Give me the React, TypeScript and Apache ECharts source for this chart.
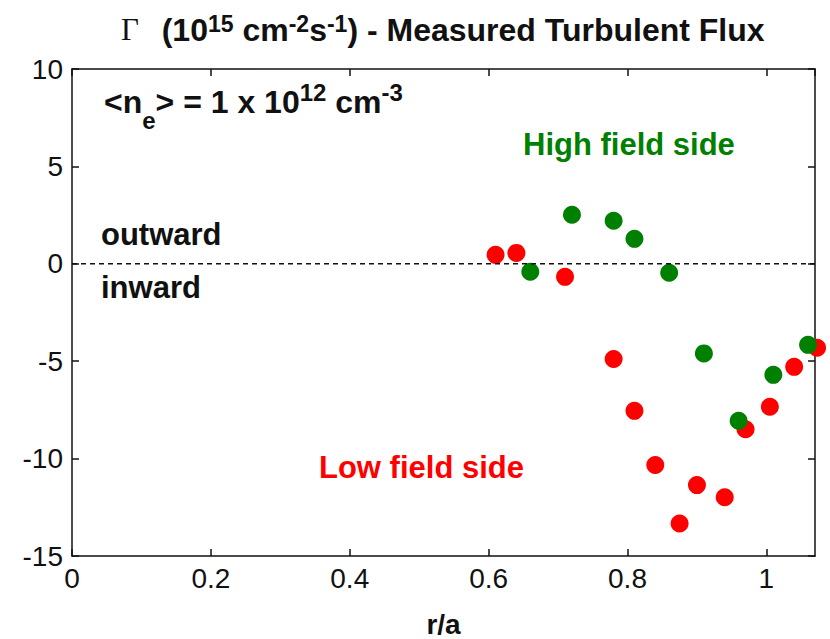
import React, { useEffect, useRef } from 'react';
import * as echarts from 'echarts';

// Measured turbulent particle flux versus normalised radius r/a
const rLow = [0.61, 0.64, 0.71, 0.78, 0.81, 0.84, 0.875, 0.9, 0.94, 0.97, 1.005, 1.04, 1.073];
const fluxLow = [0.46, 0.56, -0.67, -4.89, -7.55, -10.33, -13.33, -11.36, -11.98, -8.49, -7.34, -5.29, -4.31];
const rHigh = [0.66, 0.72, 0.78, 0.81, 0.86, 0.91, 0.96, 1.01, 1.06];
const fluxHigh = [-0.41, 2.52, 2.21, 1.28, -0.46, -4.6, -8.06, -5.7, -4.16];

const xTicks = [0, 0.2, 0.4, 0.6, 0.8, 1];
const yTicks = [-15, -10, -5, 0, 5, 10];
const xRange = [0, 1.07];
const yRange = [-15, 10];
const zeroLine = [0, 0];

const SANS = '"Liberation Sans", Arial, Helvetica, sans-serif';
const SERIF = '"Liberation Serif", "Times New Roman", serif';
const RED = '#ff0000';
const GREEN = '#008000';
const INK = '#111111';

const pairs = (xs: number[], ys: number[]) => xs.map((x, i) => [x, ys[i]]);

const tickLabel = (v: number, list: number[]) =>
  list.some((t) => Math.abs(t - v) < 1e-6) ? String(+v.toFixed(2)) : '';

const axisLineStyle = { show: true, onZero: false, lineStyle: { color: INK, width: 1.5 } };
const tickStyle = { show: true, inside: true, length: 7, lineStyle: { color: INK, width: 1.5 } };
const labelFont = { fontFamily: SANS, fontSize: 28, color: INK };

function boldToken(size: number, extra: Record<string, unknown> = {}) {
  return { fontFamily: SANS, fontWeight: 'bold', fontSize: size, fill: INK, ...extra };
}

const option: echarts.EChartsOption = {
  animation: false,
  backgroundColor: '#ffffff',
  grid: { left: 72, top: 69, right: 15, bottom: 83, containLabel: false, outerBoundsMode: 'none' } as any,
  xAxis: [
    {
      type: 'value',
      min: xRange[0],
      max: xRange[1],
      interval: 0.2,
      position: 'bottom',
      axisLine: axisLineStyle,
      axisTick: tickStyle,
      splitLine: { show: false },
      axisLabel: {
        ...labelFont,
        margin: 8,
        showMaxLabel: false,
        formatter: (v: number) => tickLabel(v, xTicks),
      },
      name: 'r/a',
      nameLocation: 'middle',
      nameGap: 54,
      nameTextStyle: { fontFamily: SANS, fontWeight: 'bold', fontSize: 28, color: INK },
    },
    {
      type: 'value',
      min: xRange[0],
      max: xRange[1],
      interval: 0.2,
      position: 'top',
      axisLine: axisLineStyle,
      axisTick: tickStyle,
      splitLine: { show: false },
      axisLabel: { show: false },
    },
  ],
  yAxis: [
    {
      type: 'value',
      min: yRange[0],
      max: yRange[1],
      interval: 5,
      position: 'left',
      axisLine: axisLineStyle,
      axisTick: tickStyle,
      splitLine: { show: false },
      axisLabel: { ...labelFont, margin: 9, formatter: (v: number) => tickLabel(v, yTicks) },
    },
    {
      type: 'value',
      min: yRange[0],
      max: yRange[1],
      interval: 5,
      position: 'right',
      axisLine: axisLineStyle,
      axisTick: tickStyle,
      splitLine: { show: false },
      axisLabel: { show: false },
    },
  ],
  series: [
    {
      type: 'line',
      data: pairs(xRange, zeroLine),
      symbol: 'none',
      lineStyle: { color: INK, width: 1.5, type: [5, 4] },
      silent: true,
    },
    {
      name: 'Low field side',
      type: 'scatter',
      data: pairs(rLow, fluxLow),
      symbol: 'circle',
      symbolSize: 18,
      clip: false,
      itemStyle: { color: RED, opacity: 1 },
    },
    {
      name: 'High field side',
      type: 'scatter',
      data: pairs(rHigh, fluxHigh),
      symbol: 'circle',
      symbolSize: 18,
      clip: false,
      itemStyle: { color: GREEN, opacity: 1 },
    },
  ],
  graphic: [
    {
      type: 'text',
      x: 121,
      y: 30,
      style: {
        text: '{g|Γ}  (10{sup|15} cm{sup|-2}s{sup|-1}) - Measured Turbulent Flux',
        align: 'left',
        verticalAlign: 'middle',
        fontFamily: SANS,
        fontWeight: 'bold',
        fontSize: 32,
        fill: INK,
        rich: {
          g: { fontFamily: SERIF, fontWeight: 'normal', fontSize: 31, fill: INK, padding: [0, 5, 1, 0] },
          sup: boldToken(23, { padding: [0, 0, 12, 0] }),
        },
      },
    },
    {
      type: 'text',
      x: 104,
      y: 102,
      style: {
        text: '<n{sub|e}> = 1 x 10{sup|12} cm{sup|-3}',
        align: 'left',
        verticalAlign: 'middle',
        fontFamily: SANS,
        fontWeight: 'bold',
        fontSize: 32,
        fill: INK,
        rich: {
          sub: boldToken(24, { padding: [36, 0, 0, 0] }),
          sup: boldToken(24, { padding: [0, 0, 19, 0] }),
        },
      },
    },
    {
      type: 'text',
      x: 523,
      y: 144.3,
      style: { text: 'High field side', ...boldToken(31), fill: GREEN, align: 'left', verticalAlign: 'middle' },
    },
    {
      type: 'text',
      x: 319,
      y: 467.3,
      style: { text: 'Low field side', ...boldToken(31), fill: RED, align: 'left', verticalAlign: 'middle' },
    },
    {
      type: 'text',
      x: 101,
      y: 234.3,
      style: { text: 'outward', ...boldToken(31), align: 'left', verticalAlign: 'middle' },
    },
    {
      type: 'text',
      x: 101,
      y: 287.3,
      style: { text: 'inward', ...boldToken(31), align: 'left', verticalAlign: 'middle' },
    },
  ],
};

export default function App() {
  const ref = useRef<HTMLDivElement>(null);
  useEffect(() => {
    const chart = echarts.init(ref.current!, null, { renderer: 'svg' });
    chart.setOption(option);
    return () => chart.dispose();
  }, []);
  return (
    <div
      ref={ref}
      style={{ position: 'fixed', left: 0, top: 0, width: 830, height: 639, background: '#ffffff' }}
    />
  );
}
